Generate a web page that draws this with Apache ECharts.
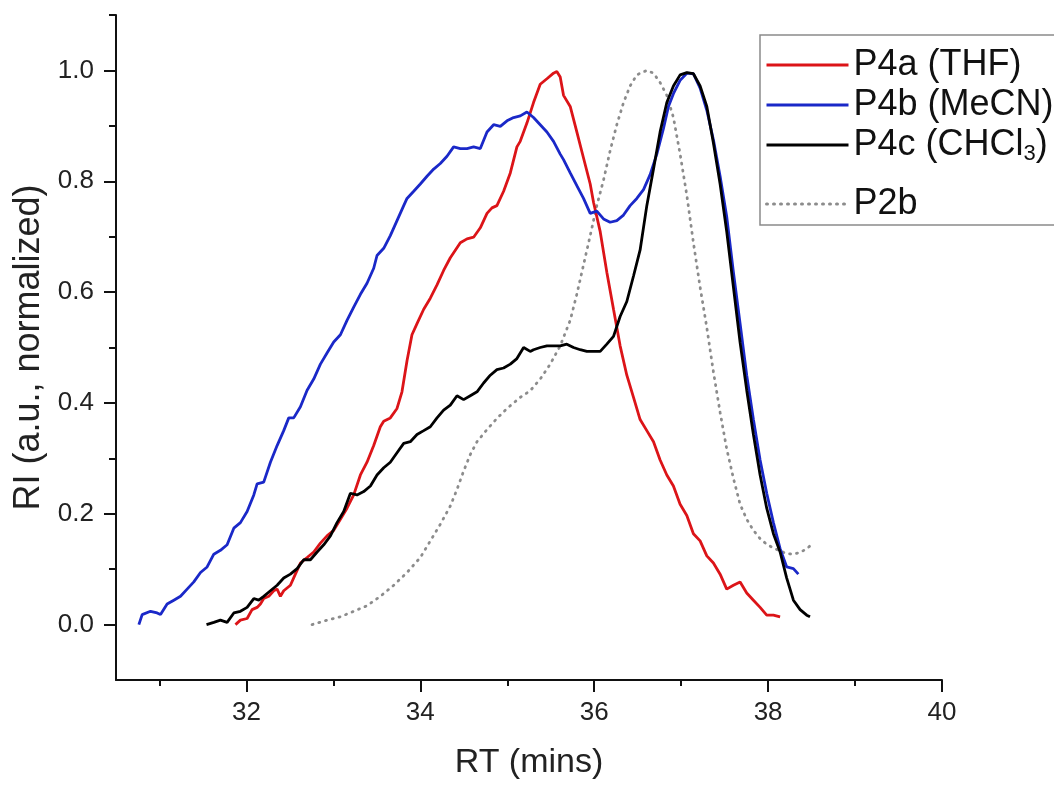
<!DOCTYPE html>
<html>
<head>
<meta charset="utf-8">
<script src="https://cdn.jsdelivr.net/npm/echarts@6/dist/echarts.min.js"></script>
<style>
  html, body { margin: 0; padding: 0; background: #fff; }
  #chart { width: 1054px; height: 785px; }
</style>
</head>
<body>
<div id="chart"></div>
<script>
  // P4a (THF)
  const p4aX = [31.874, 31.931, 32.008, 32.065, 32.123, 32.161, 32.199, 32.257, 32.314, 32.353, 32.391, 32.429, 32.506, 32.563, 32.621, 32.698, 32.774, 32.851, 32.927, 33.004, 33.081, 33.157, 33.234, 33.311, 33.387, 33.464, 33.540, 33.579, 33.655, 33.732, 33.789, 33.847, 33.904, 33.962, 34.039, 34.115, 34.192, 34.268, 34.345, 34.460, 34.537, 34.613, 34.690, 34.767, 34.824, 34.881, 34.958, 35.035, 35.111, 35.149, 35.226, 35.302, 35.379, 35.456, 35.532, 35.570, 35.609, 35.647, 35.724, 35.800, 35.877, 35.954, 35.992, 36.069, 36.145, 36.222, 36.298, 36.375, 36.452, 36.528, 36.605, 36.682, 36.758, 36.835, 36.911, 36.988, 37.065, 37.141, 37.218, 37.295, 37.371, 37.448, 37.524, 37.601, 37.678, 37.754, 37.831, 37.908, 37.984, 38.061, 38.138]
  const p4aY = [0.000, 0.008, 0.011, 0.027, 0.031, 0.037, 0.047, 0.051, 0.061, 0.064, 0.051, 0.061, 0.071, 0.091, 0.111, 0.121, 0.131, 0.147, 0.160, 0.170, 0.190, 0.210, 0.234, 0.270, 0.293, 0.323, 0.357, 0.367, 0.373, 0.390, 0.420, 0.476, 0.523, 0.543, 0.569, 0.589, 0.613, 0.639, 0.662, 0.689, 0.696, 0.699, 0.716, 0.742, 0.752, 0.756, 0.782, 0.815, 0.862, 0.872, 0.905, 0.942, 0.975, 0.985, 0.995, 0.998, 0.988, 0.955, 0.935, 0.889, 0.842, 0.795, 0.762, 0.709, 0.636, 0.569, 0.503, 0.450, 0.410, 0.370, 0.350, 0.330, 0.297, 0.270, 0.250, 0.217, 0.197, 0.164, 0.151, 0.124, 0.111, 0.091, 0.064, 0.071, 0.077, 0.057, 0.044, 0.031, 0.017, 0.017, 0.014]

  // P4b (MeCN)
  const p4bX = [30.763, 30.801, 30.897, 30.973, 31.012, 31.088, 31.165, 31.242, 31.318, 31.395, 31.472, 31.548, 31.625, 31.701, 31.778, 31.855, 31.931, 32.008, 32.085, 32.123, 32.199, 32.276, 32.353, 32.429, 32.487, 32.544, 32.621, 32.698, 32.774, 32.851, 32.927, 33.004, 33.081, 33.157, 33.234, 33.311, 33.387, 33.464, 33.502, 33.579, 33.655, 33.732, 33.809, 33.847, 33.924, 34.000, 34.077, 34.154, 34.230, 34.307, 34.383, 34.460, 34.537, 34.613, 34.690, 34.767, 34.843, 34.920, 34.997, 35.073, 35.150, 35.226, 35.302, 35.379, 35.456, 35.532, 35.609, 35.647, 35.724, 35.800, 35.877, 35.954, 36.030, 36.107, 36.183, 36.260, 36.337, 36.413, 36.490, 36.567, 36.643, 36.720, 36.796, 36.854, 36.911, 36.988, 37.065, 37.141, 37.218, 37.295, 37.371, 37.448, 37.524, 37.601, 37.678, 37.754, 37.831, 37.908, 37.984, 38.061, 38.138, 38.214, 38.291, 38.348]
  const p4bY = [0.000, 0.018, 0.024, 0.021, 0.018, 0.037, 0.044, 0.051, 0.064, 0.077, 0.094, 0.104, 0.127, 0.134, 0.144, 0.174, 0.184, 0.204, 0.234, 0.254, 0.257, 0.293, 0.323, 0.350, 0.373, 0.373, 0.393, 0.423, 0.443, 0.470, 0.490, 0.510, 0.523, 0.549, 0.573, 0.596, 0.616, 0.643, 0.666, 0.679, 0.702, 0.729, 0.756, 0.769, 0.782, 0.795, 0.809, 0.822, 0.832, 0.845, 0.862, 0.859, 0.859, 0.862, 0.859, 0.889, 0.902, 0.899, 0.909, 0.915, 0.918, 0.925, 0.915, 0.902, 0.889, 0.872, 0.849, 0.839, 0.815, 0.792, 0.769, 0.742, 0.746, 0.732, 0.726, 0.729, 0.739, 0.756, 0.769, 0.785, 0.812, 0.849, 0.895, 0.935, 0.958, 0.982, 0.995, 0.994, 0.968, 0.928, 0.875, 0.809, 0.736, 0.636, 0.543, 0.450, 0.370, 0.297, 0.237, 0.184, 0.137, 0.104, 0.101, 0.091]

  // P4c (CHCl3)
  const p4cX = [31.541, 31.625, 31.701, 31.778, 31.855, 31.931, 32.008, 32.085, 32.142, 32.199, 32.276, 32.353, 32.429, 32.506, 32.583, 32.659, 32.736, 32.813, 32.889, 32.966, 33.042, 33.119, 33.196, 33.272, 33.349, 33.426, 33.502, 33.579, 33.655, 33.732, 33.809, 33.885, 33.962, 34.039, 34.115, 34.192, 34.268, 34.345, 34.422, 34.498, 34.575, 34.652, 34.728, 34.805, 34.881, 34.958, 35.035, 35.111, 35.188, 35.264, 35.302, 35.379, 35.456, 35.532, 35.609, 35.685, 35.762, 35.839, 35.915, 35.992, 36.069, 36.145, 36.222, 36.298, 36.375, 36.452, 36.528, 36.605, 36.682, 36.758, 36.835, 36.911, 36.988, 37.065, 37.141, 37.218, 37.295, 37.371, 37.448, 37.524, 37.601, 37.678, 37.754, 37.831, 37.908, 37.984, 38.061, 38.138, 38.214, 38.291, 38.368, 38.444, 38.482]
  const p4cY = [0.000, 0.004, 0.008, 0.004, 0.021, 0.024, 0.031, 0.047, 0.044, 0.051, 0.061, 0.071, 0.084, 0.091, 0.101, 0.117, 0.117, 0.131, 0.144, 0.160, 0.184, 0.204, 0.237, 0.234, 0.240, 0.250, 0.270, 0.283, 0.293, 0.310, 0.327, 0.330, 0.343, 0.350, 0.357, 0.373, 0.387, 0.396, 0.413, 0.406, 0.413, 0.420, 0.436, 0.450, 0.460, 0.463, 0.470, 0.480, 0.500, 0.493, 0.496, 0.500, 0.503, 0.503, 0.503, 0.506, 0.500, 0.496, 0.493, 0.493, 0.493, 0.506, 0.520, 0.556, 0.583, 0.629, 0.676, 0.756, 0.822, 0.889, 0.942, 0.972, 0.992, 0.996, 0.994, 0.972, 0.935, 0.869, 0.795, 0.709, 0.609, 0.509, 0.423, 0.343, 0.270, 0.210, 0.164, 0.131, 0.084, 0.044, 0.027, 0.017, 0.014]

  // P2b
  const p2bX = [32.755, 32.928, 33.081, 33.234, 33.387, 33.540, 33.694, 33.847, 34.000, 34.115, 34.230, 34.345, 34.422, 34.498, 34.575, 34.652, 34.767, 34.881, 34.997, 35.149, 35.264, 35.379, 35.494, 35.609, 35.724, 35.800, 35.877, 35.954, 36.030, 36.107, 36.183, 36.260, 36.337, 36.413, 36.490, 36.605, 36.682, 36.758, 36.835, 36.911, 36.988, 37.065, 37.141, 37.218, 37.295, 37.371, 37.448, 37.524, 37.601, 37.678, 37.754, 37.831, 37.908, 37.984, 38.061, 38.138, 38.214, 38.291, 38.368, 38.444, 38.490]
  const p2bY = [0.000, 0.008, 0.014, 0.024, 0.034, 0.051, 0.071, 0.094, 0.121, 0.151, 0.181, 0.214, 0.244, 0.277, 0.307, 0.330, 0.352, 0.372, 0.390, 0.410, 0.422, 0.443, 0.470, 0.503, 0.549, 0.596, 0.649, 0.702, 0.756, 0.802, 0.855, 0.902, 0.942, 0.972, 0.992, 1.000, 0.995, 0.978, 0.955, 0.915, 0.849, 0.775, 0.689, 0.609, 0.536, 0.456, 0.383, 0.317, 0.264, 0.217, 0.190, 0.170, 0.155, 0.145, 0.138, 0.133, 0.128, 0.127, 0.130, 0.137, 0.143]

  const xMajor = [32, 34, 36, 38, 40]
  const xMinor = [31, 33, 35, 37, 39]
  const yMajor = [0, 0.2, 0.4, 0.6, 0.8, 1.0]
  const yMinor = [0.1, 0.3, 0.5, 0.7, 0.9, 1.1]

  const font = 'Liberation Sans, Arial, sans-serif'

  function pairs(xs, ys) {
    return xs.map((x, i) => [x, ys[i]])
  }

  function lineSeries(name, xs, ys, color, type) {
    return {
      name: name,
      type: 'line',
      symbol: 'none',
      animation: false,
      lineStyle: {color: color, width: 2.8, type: type || 'solid', cap: type ? 'round' : 'butt'},
      itemStyle: {color: color},
      data: pairs(xs, ys)
    }
  }

  const chart = echarts.init(document.getElementById('chart'))

  const axisLine = {show: true, onZero: false, lineStyle: {color: '#111', width: 2}}
  const noLine = {show: false, onZero: false}

  const option = {
    backgroundColor: '#fff',
    animation: false,
    grid: {left: 116, right: 112, top: 15, bottom: 102},
    legend: [
      {
        orient: 'vertical',
        left: 760,
        top: 35,
        padding: [12, 40, 60, 5],
        itemGap: 4,
        itemWidth: 82,
        itemHeight: 14,
        itemStyle: {opacity: 0},
        lineStyle: {width: 3},
        borderColor: '#8a8a8a',
        borderWidth: 1.5,
        selectedMode: false,
        data: ['P4a (THF)', 'P4b (MeCN)', 'P4c (CHCl3)'],
        formatter: function (name) {
          if (name === 'P4c (CHCl3)') return '{t|P4c (CHCl}{s|3}{t|)}'
          return '{t|' + name + '}'
        },
        textStyle: {
          rich: {
            t: {fontFamily: font, fontSize: 36, lineHeight: 40, color: '#111'},
            s: {fontFamily: font, fontSize: 22, lineHeight: 22, verticalAlign: 'bottom', color: '#111'}
          }
        }
      },
      {
        orient: 'vertical',
        left: 765,
        top: 184,
        padding: 0,
        itemWidth: 82,
        itemHeight: 14,
        itemStyle: {opacity: 0},
        lineStyle: {width: 3},
        selectedMode: false,
        data: ['P2b'],
        textStyle: {fontFamily: font, fontSize: 36, lineHeight: 40, color: '#111'}
      }
    ],
    xAxis: [
      {
        type: 'value',
        min: 30.5,
        max: 40,
        position: 'bottom',
        axisLine: axisLine,
        splitLine: {show: false},
        axisTick: {show: true, customValues: xMajor, length: 12, lineStyle: {color: '#111', width: 2}},
        axisLabel: {customValues: xMajor, fontFamily: font, fontSize: 26, color: '#222', margin: 20},
        name: 'RT (mins)',
        nameLocation: 'middle',
        nameGap: 66,
        nameTextStyle: {fontFamily: font, fontSize: 34, color: '#222'}
      },
      {
        type: 'value',
        min: 30.5,
        max: 40,
        position: 'bottom',
        axisLine: noLine,
        splitLine: {show: false},
        axisTick: {show: true, customValues: xMinor, length: 6, lineStyle: {color: '#111', width: 2}},
        axisLabel: {show: false}
      }
    ],
    yAxis: [
      {
        type: 'value',
        min: -0.1,
        max: 1.1,
        position: 'left',
        axisLine: axisLine,
        splitLine: {show: false},
        axisTick: {show: true, customValues: yMajor, length: 12, lineStyle: {color: '#111', width: 2}},
        axisLabel: {
          customValues: yMajor, fontFamily: font, fontSize: 26, color: '#222', margin: 22,
          formatter: v => v.toFixed(1)
        },
        name: 'RI (a.u., normalized)',
        nameLocation: 'middle',
        nameRotate: 90,
        nameGap: 66,
        nameTextStyle: {fontFamily: font, fontSize: 36, color: '#222'}
      },
      {
        type: 'value',
        min: -0.1,
        max: 1.1,
        position: 'left',
        axisLine: noLine,
        splitLine: {show: false},
        axisTick: {show: true, customValues: yMinor, length: 7, lineStyle: {color: '#111', width: 2}},
        axisLabel: {show: false}
      }
    ],
    series: [
      lineSeries('P2b', p2bX, p2bY, '#8c8c8c', [1, 6]),
      lineSeries('P4a (THF)', p4aX, p4aY, '#dc1418'),
      lineSeries('P4b (MeCN)', p4bX, p4bY, '#1a28c8'),
      lineSeries('P4c (CHCl3)', p4cX, p4cY, '#000000')
    ]
  }

  chart.setOption(option)
</script>
</body>
</html>
